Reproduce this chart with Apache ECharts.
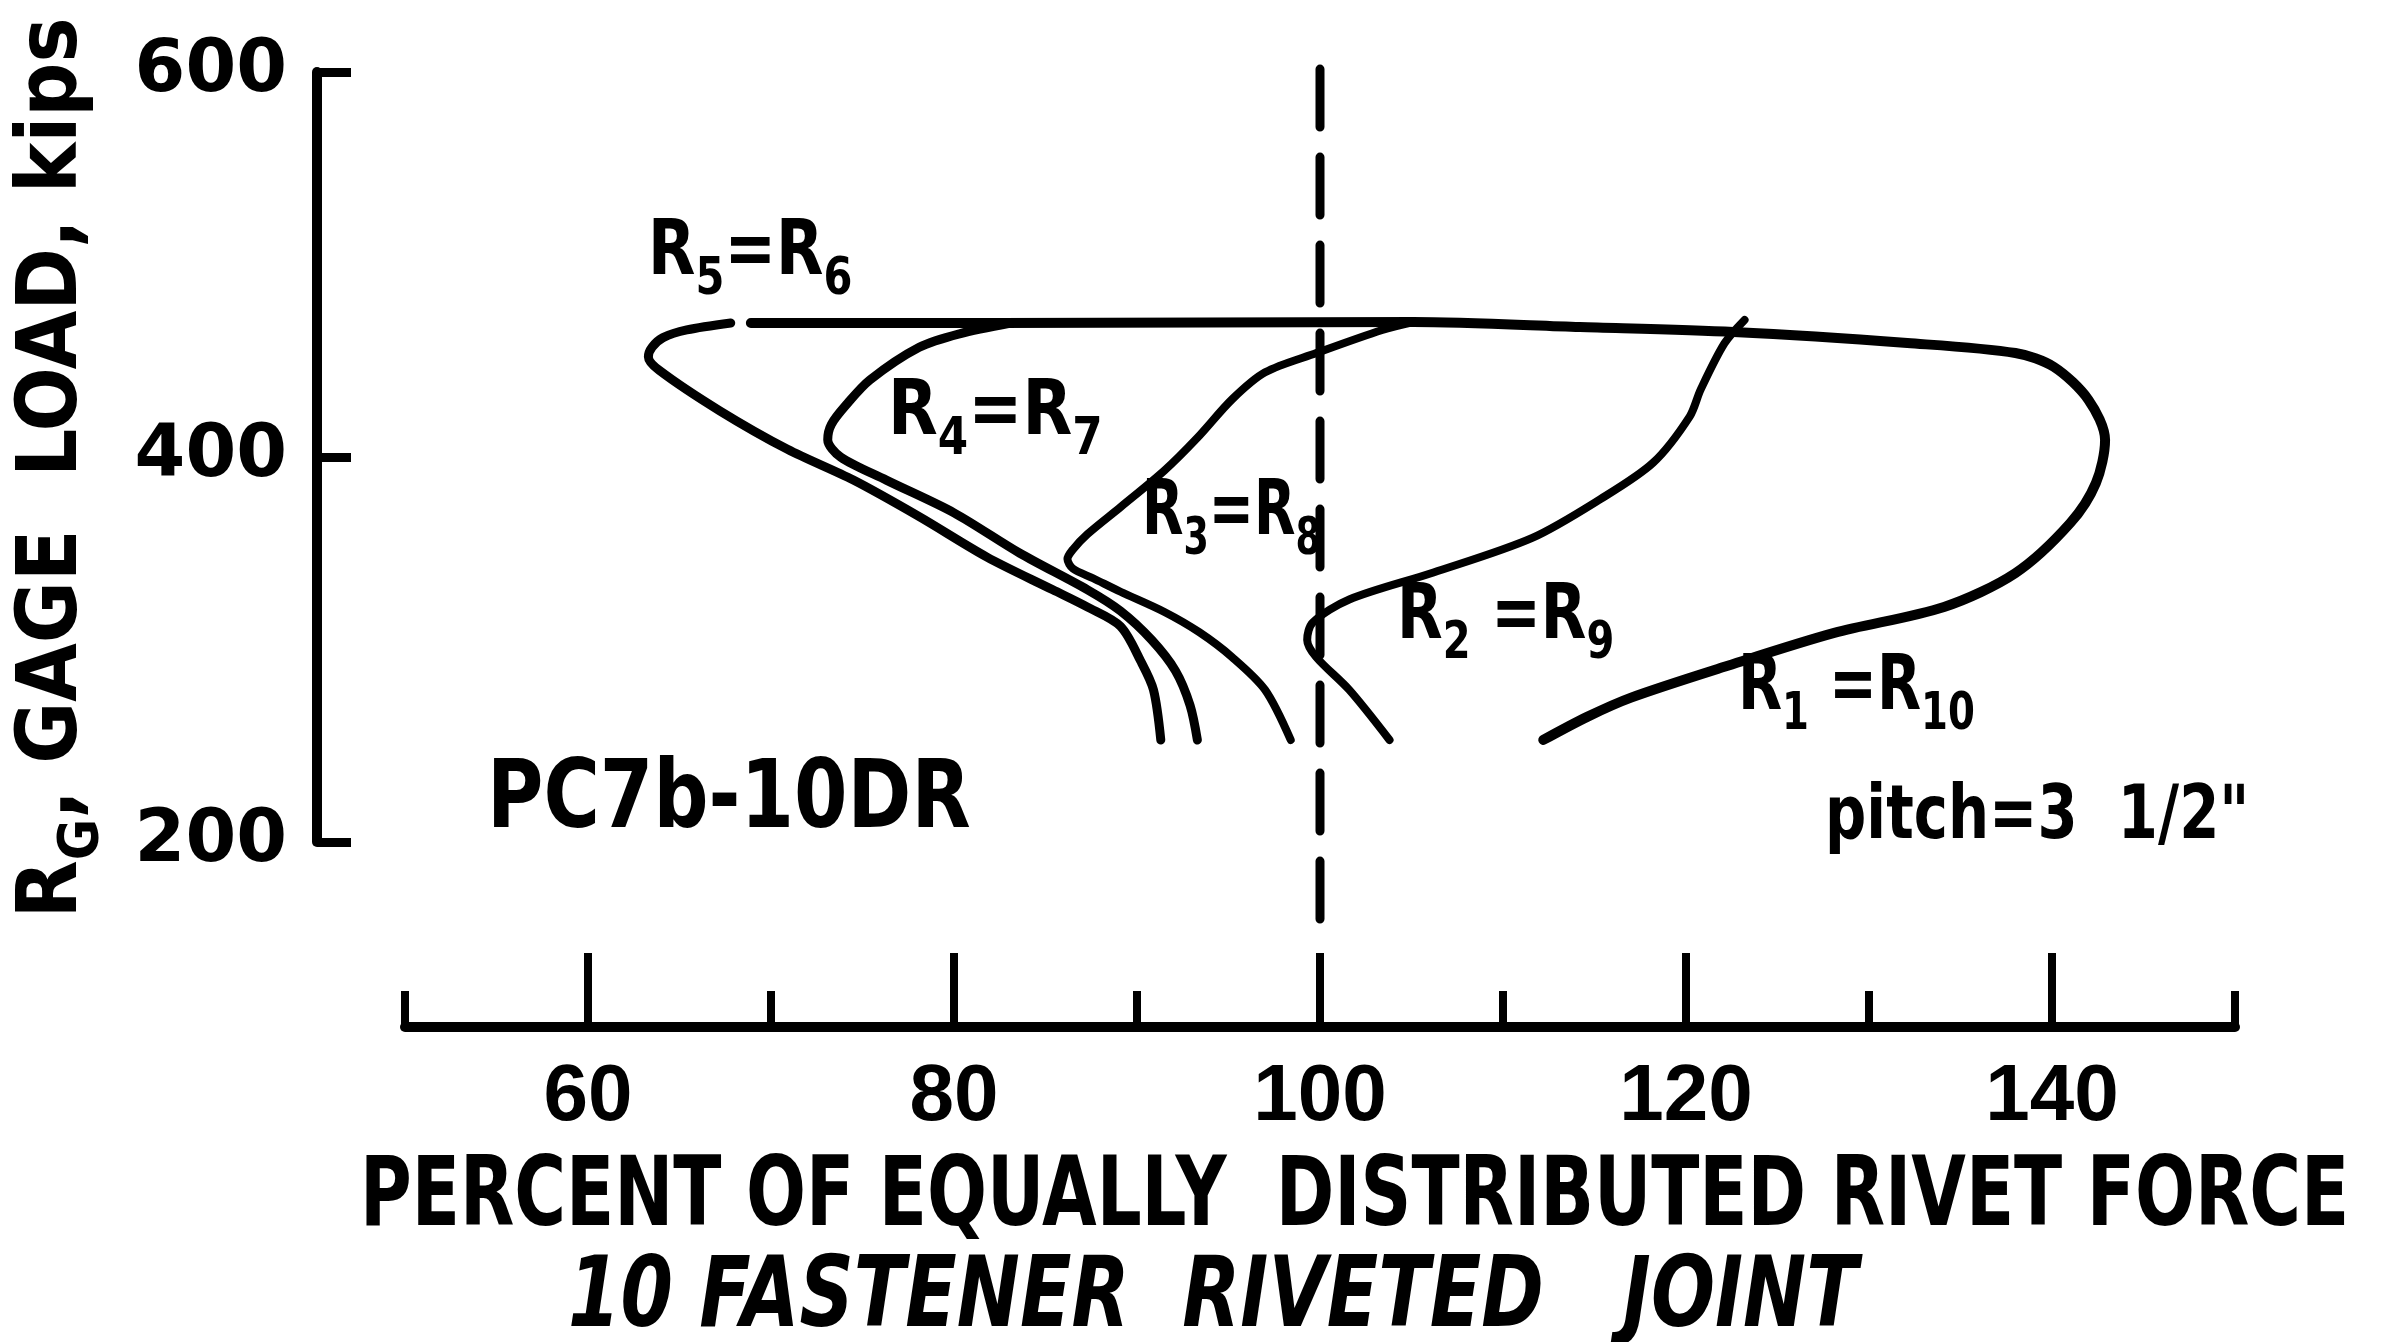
<!DOCTYPE html>
<html><head><meta charset="utf-8">
<script src="https://cdn.jsdelivr.net/npm/echarts@6/dist/echarts.min.js"></script>
<style>html,body{margin:0;padding:0;background:#fff}#c{width:2401px;height:1342px}</style>
</head><body><div id="c"></div>
<script>
// ---- data ----
const xMajorTicks = [60, 80, 100, 120, 140];
const xMinorTicks = [50, 70, 90, 110, 130, 150];
const yTicks = [200, 400, 600];

// curves: [percent, gage load]
const r5r6 = [[91.3,253],[90.9,279],[90.2,294],[89.1,312],[87.3,322],[85.4,331],[81.8,348],[78.1,369],[74.5,388],[70.9,404],[67.2,424],[63.9,445],[63.3,452],[63.5,457],[64.1,462],[65.4,466],[67.8,469.6]];
const r4r7 = [[93.3,253],[92.9,271],[92.1,289],[90.8,305],[89.1,320],[87.3,331],[83.6,350],[80.0,371],[76.3,388],[73.8,400],[73.1,409],[73.3,417],[74.1,427],[75.4,440],[78.1,457],[80.3,464],[83.1,469.6]];
const r3r8 = [[98.4,253],[97.0,279],[95.2,296],[93.4,309],[91.5,319.5],[89.1,330],[87.6,337],[86.5,342],[86.2,347],[86.5,352],[87.3,360],[89.1,374],[91.5,393],[93.3,410],[95.2,430],[97.0,444],[99.8,454],[103.4,466],[105.1,470.1]];
const r2r9 = [[103.8,253],[101.6,279],[99.8,296],[99.3,305],[99.6,314],[101.6,326],[106.2,340],[111.6,358],[115.3,378],[118.2,397],[120.2,421],[120.8,435],[122.1,459],[123.2,471.2]];
const r1r10 = [[112.2,253],[114.6,265],[117.0,275],[122.1,291],[128.1,308.6],[134.1,322.1],[138.0,339.7],[141.0,365.7],[142.4,386.5],[142.9,408.8],[142.0,429.6],[140.1,446.8],[138.0,454],[132.1,459.2],[122.6,464.9],[114.2,467.5],[105.1,470.1],[82.5,469.6],[68.9,469.6]];
const equalLine = [[100, 601.5], [100, 155.8]];

// ---- chart ----
const chart = echarts.init(document.getElementById('c'), null, {renderer: 'canvas'});
const FF = 'DejaVu Sans';
const black = '#000';

function curve(name, data, w) {
  return {
    name, type: 'line', data, xAxisIndex: 0, yAxisIndex: 0,
    showSymbol: false, symbol: 'none', smooth: 0.3, clip: false,
    lineStyle: {color: black, width: w, cap: 'round', join: 'round'},
    silent: true
  };
}

function richLabel(text, x, y, sx) {
  return {
    type: 'text', x, y, scaleX: sx, silent: true,
    style: {
      text, fill: black, align: 'left', verticalAlign: 'top', textAlign: 'left', textVerticalAlign: 'top',
      rich: {
        r: {fontSize: 77, fontFamily: FF, fontWeight: 'bold', lineHeight: 77, padding: [0, 0, 14, 0], verticalAlign: 'bottom', fill: black},
        s: {fontSize: 52, fontFamily: FF, fontWeight: 'bold', lineHeight: 52, verticalAlign: 'bottom', fill: black}
      }
    }
  };
}

function plainText(text, x, y, size, sx, italic) {
  return {
    type: 'text', x, y, scaleX: sx, silent: true,
    style: {
      text, fill: black, align: 'left', verticalAlign: 'middle', textAlign: 'left', textVerticalAlign: 'middle',
      font: (italic ? 'italic ' : '') + 'bold ' + size + 'px "' + FF + '"'
    }
  };
}

const option = {
  backgroundColor: '#fff',
  animation: false,
  grid: {left: 405, right: 166, top: 72, bottom: 500, containLabel: false},
  xAxis: [
    {
      type: 'value', min: 50, max: 150, offset: 185, position: 'bottom',
      axisLine: {show: true, lineStyle: {color: black, width: 10, cap: 'round'}},
      axisTick: {show: true, inside: true, length: 36, customValues: xMinorTicks, lineStyle: {color: black, width: 8}},
      axisLabel: {show: true, customValues: xMajorTicks, margin: 31, color: black,
        fontFamily: "'Liberation Sans Narrow', 'Liberation Sans', sans-serif", fontWeight: 'bold', fontSize: 80},
      splitLine: {show: false}
    },
    {
      type: 'value', min: 50, max: 150, offset: 185, position: 'bottom',
      axisLine: {show: false},
      axisTick: {show: true, inside: true, length: 74, customValues: xMajorTicks, lineStyle: {color: black, width: 8}},
      axisLabel: {show: false},
      splitLine: {show: false}
    }
  ],
  yAxis: {
    type: 'value', min: 200, max: 600, interval: 200, offset: 88, position: 'left',
    axisLine: {show: true, lineStyle: {color: black, width: 10, cap: 'round'}},
    axisTick: {show: true, inside: true, length: 34, customValues: yTicks, lineStyle: {color: black, width: 9}},
    axisLabel: {show: true, customValues: yTicks, margin: 30, color: black, fontFamily: FF, fontWeight: 'bold', fontSize: 73},
    splitLine: {show: false}
  },
  series: [
    curve('R5=R6', r5r6, 9),
    curve('R4=R7', r4r7, 9),
    curve('R3=R8', r3r8, 8),
    curve('R2=R9', r2r9, 8),
    curve('R1=R10', r1r10, 10),
    {
      name: '100%', type: 'line', data: equalLine, showSymbol: false, symbol: 'none', clip: false, silent: true,
      lineStyle: {color: black, width: 9, type: [58, 30], cap: 'round'}
    }
  ],
  graphic: [
    // y axis title (rotated)
    {
      type: 'text', x: 68, y: 468, rotation: Math.PI / 2, scaleX: 0.9, silent: true,
      style: {
        text: '{r|R}{s|G}{r|, GAGE  LOAD, kips}', fill: black,
        align: 'center', verticalAlign: 'middle', textAlign: 'center', textVerticalAlign: 'middle',
        rich: {
          r: {fontSize: 84, fontFamily: FF, fontWeight: 'bold', lineHeight: 84, padding: [0, 0, 14, 0], verticalAlign: 'bottom', fill: black},
          s: {fontSize: 56, fontFamily: FF, fontWeight: 'bold', lineHeight: 56, verticalAlign: 'bottom', fill: black}
        }
      }
    },
    richLabel('{r|R}{s|5}{r|=R}{s|6}', 648, 229, 0.80),
    richLabel('{r|R}{s|4}{r|=R}{s|7}', 888, 389, 0.84),
    richLabel('{r|R}{s|3}{r|=R}{s|8}', 1142, 489, 0.70),
    richLabel('{r|R}{s|2}{r| =R}{s|9}', 1397, 593, 0.77),
    richLabel('{r|R}{s|1}{r| =R}{s|10}', 1738, 664, 0.744),
    plainText('PC7b-10DR', 487, 802, 95, 0.81, false),
    plainText('pitch=3  1/2"', 1825, 819, 75, 0.77, false),
    plainText('PERCENT OF EQUALLY  DISTRIBUTED RIVET FORCE', 360, 1200, 96, 0.735, false),
    plainText('10 FASTENER  RIVETED   JOINT', 568, 1301, 98, 0.77, true)
  ]
};
chart.setOption(option);
</script>
</body></html>
